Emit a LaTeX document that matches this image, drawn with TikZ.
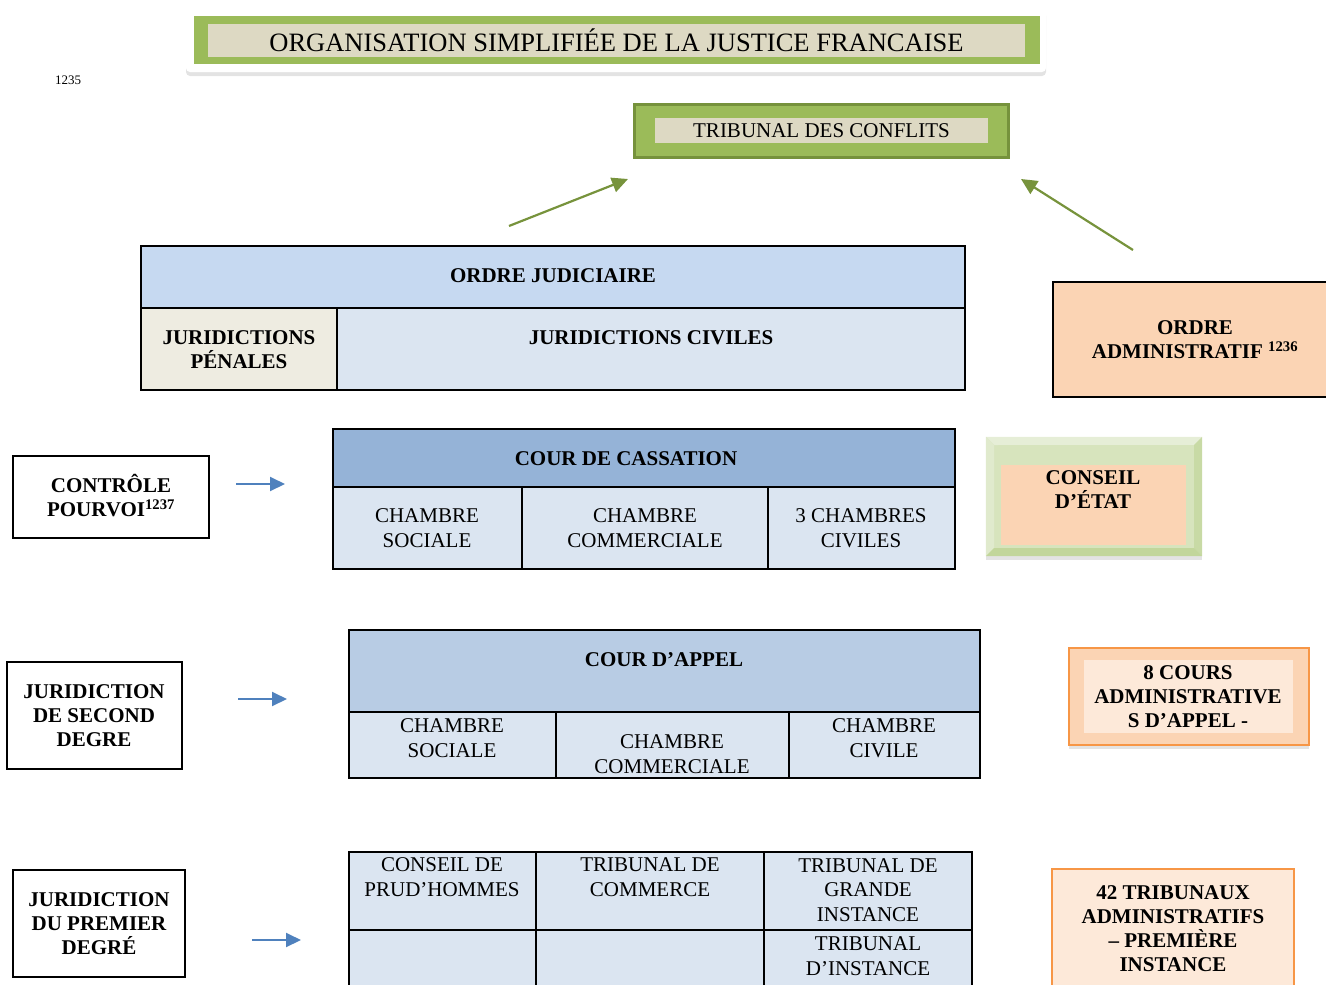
\documentclass[tikz,border=0pt]{standalone}
\usepackage{fontspec}
\setmainfont{Liberation Serif}
\usepackage{xcolor}
\usetikzlibrary{arrows.meta,shadows}
\definecolor{vertVif}{HTML}{9BBB59}
\definecolor{vertSombre}{HTML}{76923C}
\definecolor{vertFleche}{HTML}{77933C}
\definecolor{vertPale}{HTML}{D7E4BD}
\definecolor{vertClair}{HTML}{E6EED7}
\definecolor{vertMoyen}{HTML}{C2D69B}
\definecolor{beigeTitre}{HTML}{DDD9C3}
\definecolor{beigeClair}{HTML}{EEECE1}
\definecolor{bleuEntete}{HTML}{C6D9F1}
\definecolor{bleuCellule}{HTML}{DBE5F1}
\definecolor{bleuCassation}{HTML}{95B3D7}
\definecolor{bleuAppel}{HTML}{B8CCE4}
\definecolor{bleuFleche}{HTML}{4F81BD}
\definecolor{peche}{HTML}{FBD4B4}
\definecolor{pecheClair}{HTML}{FDE9D9}
\definecolor{orangeBord}{HTML}{F79646}
\tikzset{
    cell/.style = {
        draw            = black,
        line width      = 1.5,
        inner sep       = 0pt,
    },
    txt/.style = {
        align           = center,
        inner sep       = 0pt,
        font            = \fontsize{21}{24.5}\selectfont,
    },
    txtb/.style = {
        txt,
        font            = \fontsize{21}{24}\selectfont\bfseries,
    },
    ombre/.style = {
        drop shadow = {opacity=0.22, shadow xshift=0pt, shadow yshift=-4pt},
    },
    fleche/.style = {
        -{Triangle[length=15pt,width=14pt]},
        line width      = 2,
        draw            = bleuFleche,
    },
    flecheVerte/.style = {
        -{Triangle[length=16pt,width=15pt]},
        line width      = 2.2,
        draw            = vertFleche,
    },
}

\begin{document}
\begin{tikzpicture}[x=1pt,y=-1pt]
  \useasboundingbox (0,0) rectangle (1326,985);

  % Titre
  \node[fill=white,rounded corners=4,ombre,minimum width=860,minimum height=64] (TitreCadre) at (616,40) {};
  \node[fill=vertVif,minimum width=846,minimum height=48] (TitreVert) at (617,40) {};
  \node[fill=beigeTitre,minimum width=817,minimum height=33,inner sep=0pt,font=\fontsize{26.5}{30}\selectfont] (Titre) at (616.5,40.5) {ORGANISATION SIMPLIFIÉE DE LA JUSTICE FRANCAISE};
  \node[txt,font=\fontsize{13}{15}\selectfont] (Note) at (68,80) {1235};

  % Tribunal des conflits
  \node[draw=vertSombre,line width=3,fill=vertVif,minimum width=374,minimum height=53] (TribunalCadre) at (821,130.5) {};
  \node[fill=beigeTitre,minimum width=333,minimum height=25,inner sep=0pt,font=\fontsize{21}{24}\selectfont] (TribunalConflits) at (821.5,130.5) {TRIBUNAL DES CONFLITS};

  \coordinate (JudDepart) at (509,226);
  \coordinate (JudArrivee) at (628,179);
  \coordinate (AdmDepart) at (1133,250);
  \coordinate (AdmArrivee) at (1021,179);
  \draw[flecheVerte] (JudDepart) to (JudArrivee);
  \draw[flecheVerte] (AdmDepart) to (AdmArrivee);

  % Ordre judiciaire
  \node[cell,fill=bleuEntete,minimum width=824,minimum height=62] (OrdreJudiciaire) at (553,277) {};
  \node[txtb] (OrdreJudiciaireTexte) at (553,276) {ORDRE JUDICIAIRE};
  \node[cell,fill=beigeClair,minimum width=196,minimum height=82] (Penales) at (239,349) {};
  \node[txtb] (PenalesTexte) at (239,350) {JURIDICTIONS\\PÉNALES};
  \node[cell,fill=bleuCellule,minimum width=628,minimum height=82] (Civiles) at (651,349) {};
  \node[txtb] (CivilesTexte) at (651,338) {JURIDICTIONS CIVILES};

  % Ordre administratif
  \node[cell,fill=peche,minimum width=287,minimum height=115] (OrdreAdministratif) at (1196.5,339.5) {};
  \node[txtb] (OrdreAdministratifTexte) at (1195,340) {ORDRE\\ADMINISTRATIF \textsuperscript{1236}};

  % Cour de cassation
  \node[cell,line width=2,minimum width=196,minimum height=82] (Controle) at (111,497) {};
  \node[txtb] (ControleTexte) at (111,496) {CONTRÔLE\\POURVOI\textsuperscript{1237}};
  \coordinate (CassDepart) at (236,484);
  \coordinate (CassArrivee) at (285,484);
  \draw[fleche] (CassDepart) to (CassArrivee);

  \node[cell,fill=bleuCassation,minimum width=622,minimum height=58] (Cassation) at (644,458) {};
  \node[txtb] (CassationTexte) at (626,459) {COUR DE CASSATION};
  \node[cell,fill=bleuCellule,minimum width=189,minimum height=82] (CassSociale) at (427.5,528) {};
  \node[txt] (CassSocialeTexte) at (427,528) {CHAMBRE\\SOCIALE};
  \node[cell,fill=bleuCellule,minimum width=246,minimum height=82] (CassCommerciale) at (645,528) {};
  \node[txt] (CassCommercialeTexte) at (645,528) {CHAMBRE\\COMMERCIALE};
  \node[cell,fill=bleuCellule,minimum width=187,minimum height=82] (CassCiviles) at (861.5,528) {};
  \node[txt] (CassCivilesTexte) at (861,528) {3 CHAMBRES\\CIVILES};

  % Conseil d'Etat (biseau)
  \node[fill=vertPale,ombre,minimum width=216,minimum height=119] (ConseilCadre) at (1094,496.5) {};
  \fill[vertClair] (ConseilCadre.north west) -- (ConseilCadre.north east) -- ++(-8,8) -- (994,445) -- cycle;
  \fill[vertClair!60!vertPale] (ConseilCadre.north west) -- (994,445) -- (994,548) -- (ConseilCadre.south west) -- cycle;
  \fill[vertMoyen!70!vertPale] (ConseilCadre.north east) -- (1194,445) -- (1194,548) -- (ConseilCadre.south east) -- cycle;
  \fill[vertMoyen] (ConseilCadre.south west) -- (994,548) -- (1194,548) -- (ConseilCadre.south east) -- cycle;
  \node[fill=peche,minimum width=185,minimum height=80] (ConseilEtat) at (1093.5,505) {};
  \node[txtb] (ConseilEtatTexte) at (1093,490) {CONSEIL\\D’ÉTAT};

  % Second degre
  \node[cell,line width=2,minimum width=175,minimum height=107] (SecondDegre) at (94.5,715.5) {};
  \node[txtb] (SecondDegreTexte) at (94,716) {JURIDICTION\\DE SECOND\\DEGRE};
  \coordinate (AppelDepart) at (238,699);
  \coordinate (AppelArrivee) at (287,699);
  \draw[fleche] (AppelDepart) to (AppelArrivee);

  \node[cell,fill=bleuAppel,minimum width=631,minimum height=82] (CourAppel) at (664.5,671) {};
  \node[txtb] (CourAppelTexte) at (664,660) {COUR D’APPEL};
  \node[cell,fill=bleuCellule,minimum width=207,minimum height=66] (AppelSociale) at (452.5,745) {};
  \node[txt] (AppelSocialeTexte) at (452,738) {CHAMBRE\\SOCIALE};
  \node[cell,fill=bleuCellule,minimum width=233,minimum height=66] (AppelCommerciale) at (672.5,745) {};
  \node[txt] (AppelCommercialeTexte) at (672,754) {CHAMBRE\\COMMERCIALE};
  \node[cell,fill=bleuCellule,minimum width=191,minimum height=66] (AppelCivile) at (884.5,745) {};
  \node[txt] (AppelCivileTexte) at (884,738) {CHAMBRE\\CIVILE};

  \node[draw=orangeBord,line width=1.5,fill=peche,ombre,minimum width=240,minimum height=97] (CoursAdmCadre) at (1189,696.5) {};
  \node[fill=pecheClair,minimum width=209,minimum height=73] (CoursAdm) at (1188.5,696.5) {};
  \node[txtb] (CoursAdmTexte) at (1188,697) {8 COURS\\ADMINISTRATIVE\\S D’APPEL -};

  % Premier degre
  \node[cell,line width=2,minimum width=172,minimum height=107] (PremierDegre) at (99,923.5) {};
  \node[txtb] (PremierDegreTexte) at (99,924) {JURIDICTION\\DU PREMIER\\DEGRÉ};
  \coordinate (PremierDepart) at (252,940);
  \coordinate (PremierArrivee) at (301,940);
  \draw[fleche] (PremierDepart) to (PremierArrivee);

  \node[cell,fill=bleuCellule,minimum width=187,minimum height=78] (Prudhommes) at (442.5,891) {};
  \node[txt] (PrudhommesTexte) at (442,877) {CONSEIL DE\\PRUD’HOMMES};
  \node[cell,fill=bleuCellule,minimum width=228,minimum height=78] (Commerce) at (650,891) {};
  \node[txt] (CommerceTexte) at (650,877) {TRIBUNAL DE\\COMMERCE};
  \node[cell,fill=bleuCellule,minimum width=208,minimum height=78] (GrandeInstance) at (868,891) {};
  \node[txt] (GrandeInstanceTexte) at (868,890) {TRIBUNAL DE\\GRANDE\\INSTANCE};
  \node[cell,fill=bleuCellule,minimum width=187,minimum height=70] (VideA) at (442.5,965) {};
  \node[cell,fill=bleuCellule,minimum width=228,minimum height=70] (VideB) at (650,965) {};
  \node[cell,fill=bleuCellule,minimum width=208,minimum height=70] (Instance) at (868,965) {};
  \node[txt] (InstanceTexte) at (868,956) {TRIBUNAL\\D’INSTANCE};

  \node[draw=orangeBord,line width=1.5,fill=pecheClair,minimum width=242,minimum height=131] (TribunauxAdm) at (1173,934.5) {};
  \node[txtb] (TribunauxAdmTexte) at (1173,929) {42 TRIBUNAUX\\ADMINISTRATIFS\\– PREMIÈRE\\INSTANCE};

\end{tikzpicture}
\end{document}
